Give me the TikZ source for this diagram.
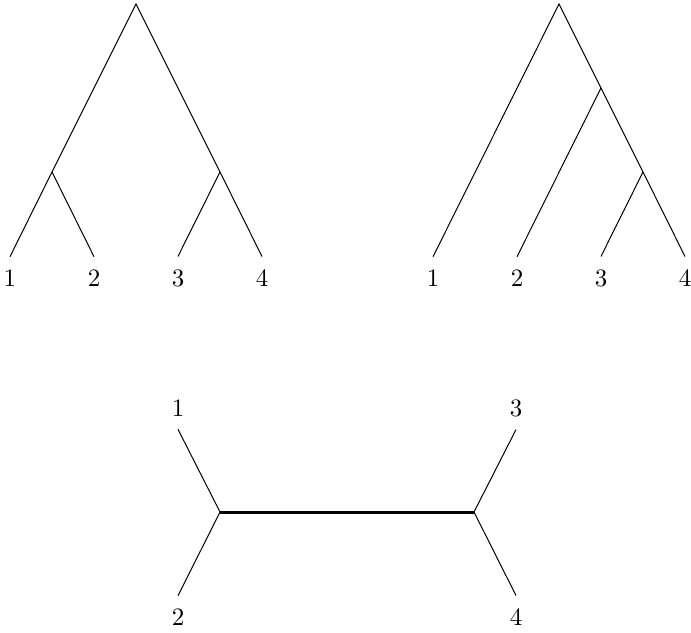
\documentclass[tikz,border=0pt]{standalone}
\usetikzlibrary{positioning}
\tikzset{
  leaf/.style={inner sep=5pt},
  branch/.style={line width=0.4pt},
  inner edge/.style={line width=1.2pt}
}

\begin{document}
\begin{tikzpicture}[x=0.4pt,y=-0.4pt]
 \useasboundingbox (0,0) rectangle (691,632);

 %left tree: ((1,2),(3,4))
 \coordinate (A) at (136,4);
 \coordinate (A12) at (52,172);
 \coordinate (A34) at (220,172);
 \node[leaf] (a1) at (10,278) {1};
 \node[leaf] (a2) at (94,278) {2};
 \node[leaf] (a3) at (178,278) {3};
 \node[leaf] (a4) at (262,278) {4};

 \draw[branch] (a1.north) -- (A12) -- (A) -- (A34) -- (a4.north);
 \draw[branch] (A12) -- (a2.north);
 \draw[branch] (A34) -- (a3.north);

 %right tree: (1,(2,(3,4)))
 \coordinate (B) at (559,4);
 \coordinate (B234) at (601,88);
 \coordinate (B34) at (643,172);
 \node[leaf] (b1) at (433,278) {1};
 \node[leaf] (b2) at (517,278) {2};
 \node[leaf] (b3) at (601,278) {3};
 \node[leaf] (b4) at (685,278) {4};

 \draw[branch] (b1.north) -- (B) -- (B234) -- (B34) -- (b4.north);
 \draw[branch] (B234) -- (b2.north);
 \draw[branch] (B34) -- (b3.north);

 %unrooted tree
 \coordinate (L) at (220,512);
 \coordinate (R) at (474,512);
 \node[leaf] (c1) at (178,408) {1};
 \node[leaf] (c2) at (178,617) {2};
 \node[leaf] (c3) at (516,408) {3};
 \node[leaf] (c4) at (516,617) {4};

 \draw[branch] (c1.south) -- (L) -- (c2.north);
 \draw[branch] (c3.south) -- (R) -- (c4.north);
 \draw[inner edge] (L) -- (R);
\end{tikzpicture}
\end{document}
